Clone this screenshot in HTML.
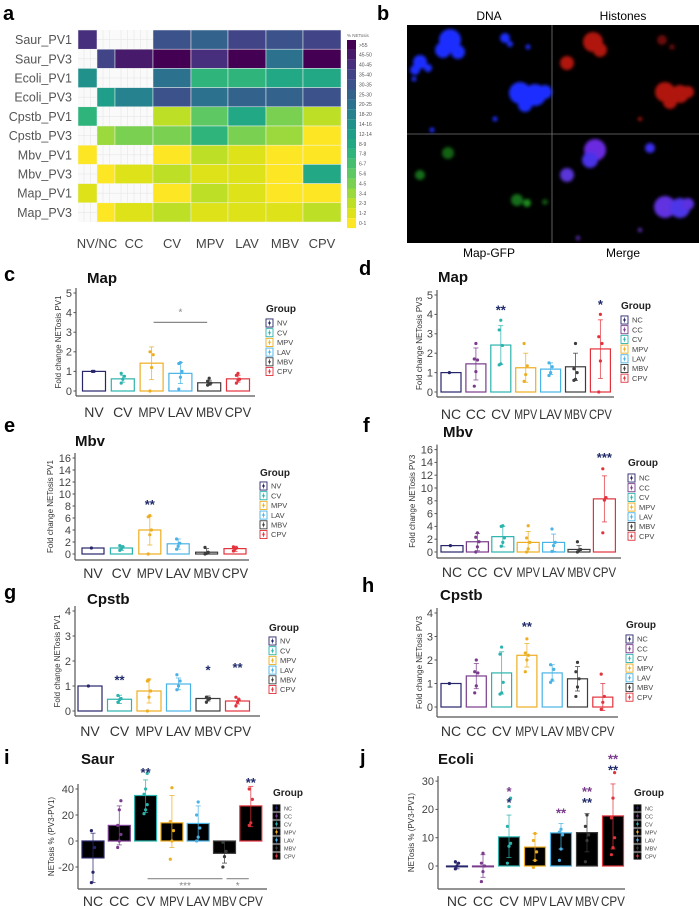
<!DOCTYPE html>
<html><head><meta charset="utf-8"><style>
html,body{margin:0;padding:0;background:#fff;}
svg{display:block;font-family:"Liberation Sans",sans-serif;}
</style></head><body>
<svg id="fig" width="699" height="906" viewBox="0 0 699 906" xmlns="http://www.w3.org/2000/svg">
<defs>
<filter id="blur1" x="-50%" y="-50%" width="200%" height="200%"><feGaussianBlur stdDeviation="1.6"/></filter>
</defs>
<rect x="0" y="0" width="699" height="906" fill="#fff"/>
<g id="pa"></g>
<g id="pb">
  <text x="377" y="20" font-size="20" font-weight="bold">b</text>
  <rect x="407" y="25" width="292" height="218" fill="#000"/>
  <line x1="552" y1="25" x2="552" y2="243" stroke="#777" stroke-width="0.8"/>
  <line x1="407" y1="134" x2="699" y2="134" stroke="#777" stroke-width="0.8"/>
  <g filter="url(#blur1)" fill="#1f2fff">
    <circle cx="450" cy="40" r="11"/><circle cx="443" cy="50" r="8"/><circle cx="458" cy="52" r="7"/>
    <circle cx="420" cy="62" r="7"/><circle cx="415" cy="70" r="5"/><circle cx="428" cy="68" r="4"/>
    <circle cx="505" cy="38" r="5"/><circle cx="510" cy="44" r="3"/><circle cx="528" cy="47" r="2.5"/>
    <circle cx="520" cy="93" r="11"/><circle cx="535" cy="95" r="11"/><circle cx="545" cy="92" r="7"/><circle cx="525" cy="105" r="7"/>
    <circle cx="495" cy="119" r="2.5"/><circle cx="432" cy="130" r="2.5"/><circle cx="414" cy="79" r="2.5"/>
  </g>
  <g filter="url(#blur1)" fill="#b0140e">
    <circle cx="593" cy="42" r="10"/><circle cx="600" cy="50" r="7"/><circle cx="567" cy="63" r="7"/>
    <circle cx="662" cy="40" r="5" opacity="0.6"/><circle cx="672" cy="47" r="3" opacity="0.5"/>
    <circle cx="665" cy="92" r="10"/><circle cx="680" cy="94" r="9"/><circle cx="688" cy="92" r="6"/><circle cx="670" cy="102" r="7"/>
    <circle cx="640" cy="119" r="2"/>
  </g>
  <g filter="url(#blur1)" fill="#1b8a1e">
    <circle cx="448" cy="153" r="6" opacity="0.7"/><circle cx="420" cy="175" r="5" opacity="0.8"/>
    <circle cx="517" cy="200" r="6" opacity="0.8"/><circle cx="527" cy="203" r="4"/><circle cx="545" cy="202" r="3" opacity="0.6"/>
  </g>
  <g filter="url(#blur1)">
    <circle cx="595" cy="150" r="11" fill="#6a2ae0"/><circle cx="590" cy="160" r="8" fill="#4a30e8"/>
    <circle cx="567" cy="175" r="7" fill="#5a36d8"/><circle cx="650" cy="148" r="5" fill="#3b2ff0"/>
    <circle cx="665" cy="207" r="11" fill="#6030e0"/><circle cx="680" cy="208" r="10" fill="#4d35e8"/><circle cx="688" cy="204" r="6" fill="#5b30e0"/>
    <circle cx="640" cy="230" r="2" fill="#6633cc"/><circle cx="578" cy="238" r="2" fill="#6633cc"/>
  </g>
  <text x="489" y="20" font-size="12" text-anchor="middle">DNA</text>
  <text x="623" y="20" font-size="12" text-anchor="middle">Histones</text>
  <text x="489" y="257" font-size="12" text-anchor="middle">Map-GFP</text>
  <text x="623" y="257" font-size="12" text-anchor="middle">Merge</text>
</g>
<g id="charts"></g>
</svg>
<script>
// ---------- Heatmap data (panel a) ----------
const heatRows = ["Saur_PV1","Saur_PV3","Ecoli_PV1","Ecoli_PV3","Cpstb_PV1","Cpstb_PV3","Mbv_PV1","Mbv_PV3","Map_PV1","Map_PV3"];
const heatCols = ["NV","NC","CC","CV","MPV","LAV","MBV","CPV"];
const heatColLabels = ["NV/NC","CC","CV","MPV","LAV","MBV","CPV"];
const heatValues = [
 [16,-1,-1,14,13,15,14,15],
 [-1,15,17,18,16,18,12,18],
 [10,-1,-1,12,7,7,8,8],
 [-1,9,11,14,12,13,13,14],
 [7,-1,-1,2,5,8,4,2],
 [-1,3,4,4,7,4,3,0],
 [0,-1,-1,0,2,1,0,0],
 [-1,0,1,2,1,1,0,8],
 [1,-1,-1,0,2,1,0,0],
 [-1,0,1,2,1,1,1,2]
];
const heatLegendLabels = ["0-1","1-2","2-3","3-4","4-5","5-6","6-7","7-8","8-9","12-14","14-16","18-20","20-25","25-30","30-35","35-40","40-45","45-50",">55"];
const viridis = ["#fde725","#dde318","#bddf26","#9bd93c","#7ad151","#5ec962","#44bf70","#2fb47c","#22a884","#1f9e89","#21918c","#26828e","#2c728e","#33638d","#3b528b","#414487","#472f7d","#481a6c","#440154"];

// ---------- Bar chart data ----------
const cCats=["NV","CV","MPV","LAV","MBV","CPV"];
const cMeans=[1,0.62,1.42,0.9,0.42,0.62];
const cLo=[1,0.45,0.58,0.38,0.3,0.45];
const cHi=[1,0.8,2.25,1.45,0.55,0.8];
const cPts=[[1,1],[0.4,0.6,0.75,0.9],[0,1.2,1.85,2.0],[0.1,0.7,1.0,1.4,1.45],[0.3,0.35,0.4,0.5,0.65],[0.4,0.55,0.6,0.8,0.9]];
const cTicks=[0,1,2,3,4,5];

const dCats=["NC","CC","CV","MPV","LAV","MBV","CPV"];
const dMeans=[1,1.45,2.42,1.25,1.18,1.3,2.22];
const dLo=[1,0.62,1.42,0.5,0.9,0.6,0.7];
const dHi=[1,2.27,3.42,2.0,1.5,2.0,3.72];
const dPts=[[1],[0.3,1.05,1.65,1.7,2.5],[1.4,1.45,2.4,3.2,3.7],[0.55,0.9,1.35,2.5],[0.85,1.0,1.3,1.5],[0.6,0.65,1.0,1.2,2.5],[0,1.6,2.5,2.85,4.0]];
const dTicks=[0,1,2,3,4,5];

const eCats=["NV","CV","MPV","LAV","MBV","CPV"];
const eMeans=[1,1,4,1.7,0.3,0.9];
const eLo=[1,0.6,1.5,0.8,0,0.4];
const eHi=[1,1.4,6.3,2.5,0.9,1.3];
const ePts=[[1],[0.6,0.9,1.2,1.4],[0,3.2,4.0,6.2,6.4],[0.8,1.3,1.8,2.5],[0,0.1,0.3,1.1],[0.5,0.8,1.0,1.2]];
const eTicks=[0,2,4,6,8,10,12,14,16];

const fCats=["NC","CC","CV","MPV","LAV","MBV","CPV"];
const fMeans=[1,1.6,2.4,1.5,1.5,0.4,8.3];
const fLo=[1,0.2,0.8,0,0.1,0,4.7];
const fHi=[1,2.9,4.0,3.2,2.8,1.0,11.9];
const fPts=[[1],[0,0.8,1.6,2.3,3.0],[0.9,1.5,2.2,4.0,4.1],[0,0.5,1.5,2.2,4.1],[0.1,1.0,1.5,3.6],[0,0.3,0.4,1.6],[3.0,8.1,8.5,13.0]];
const fTicks=[0,2,4,6,8,10,12,14,16];

const gCats=["NV","CV","MPV","LAV","MBV","CPV"];
const gMeans=[1,0.47,0.8,1.08,0.5,0.4];
const gLo=[1,0.3,0.32,0.85,0.4,0.28];
const gHi=[1,0.63,1.28,1.32,0.6,0.52];
const gPts=[[1],[0.35,0.45,0.5,0.62],[0,0.55,0.8,1.2,1.25],[0.85,1.0,1.2,1.45],[0.35,0.45,0.5,0.55],[0.2,0.35,0.45,0.55]];
const gTicks=[0,1,2,3,4];

const hCats=["NC","CC","CV","MPV","LAV","MBV","CPV"];
const hMeans=[1,1.32,1.45,2.2,1.45,1.2,0.42];
const hLo=[1,0.78,0.55,1.7,1.1,0.68,-0.15];
const hHi=[1,1.85,2.35,2.7,1.8,1.72,1.0];
const hPts=[[1],[0.6,0.9,1.45,1.5,2.0],[0.55,0.6,1.05,2.25,2.55],[1.5,2.0,2.2,2.3,2.9],[1.05,1.15,1.6,1.8],[0.45,0.85,1.2,1.5,1.9],[-0.1,0.2,0.45,1.4]];
const hTicks=[0,1,2,3,4];

const iCats=["NC","CC","CV","MPV","LAV","MBV","CPV"];
const iMeans=[-13,12,35,14,13.5,-9.5,27];
const iLo=[-32,-3,22,-5,0,-17,11];
const iHi=[6,27,47,35,27,0,42];
const iPts=[[-32,-24,-5,8],[-5,0,5,12,24,31],[21,24,28,36,40,52],[-14,0,8,15,41],[0,3,10,20,30],[-20,-12,-8,-1],[12,14,32,40]];
const iTicks=[-20,0,20,40];

const jCats=["NC","CC","CV","MPV","LAV","MBV","CPV"];
const jMeans=[0,-0.2,10.3,6.7,11.7,11.8,17.7];
const jLo=[-1,-4,3,2,6,5,6];
const jHi=[1,4,18,11.5,15,18.5,29];
const jPts=[[-1,0,1,1.5],[-5.5,-2,0,1,4.5],[1,7,8,14,21,24],[-0.5,2,5,9,11.5],[2,6,11,12,13],[1.5,9,11,14,18],[4,6.5,10,17,24,33]];
const jTicks=[0,10,20,30];

// significance marks: [category index, value, text, color]
const cStars=[];
const dStars=[[2,4.3,"**","#1f2a6b"],[6,4.6,"*","#1f2a6b"]];
const eStars=[[2,8.5,"**","#1f2a6b"]];
const fStars=[[6,15,"***","#1f2a6b"]];
const gStars=[[1,1.3,"**","#1f2a6b"],[4,1.7,"*","#1f2a6b"],[5,1.8,"**","#1f2a6b"]];
const hStars=[[3,3.5,"**","#1f2a6b"]];
const iStars=[[2,54,"**","#1f2a6b"],[6,46,"**","#1f2a6b"]];
const jStars=[[2,23,"*","#1f2a6b"],[2,26.8,"*","#7a3b8c"],[4,19.3,"**","#7a3b8c"],[5,23,"**","#1f2a6b"],[5,26.8,"**","#7a3b8c"],[6,34.5,"**","#1f2a6b"],[6,38.3,"**","#7a3b8c"]];
// bracket lines: [from idx, to idx, value, label, label value]
const cBrackets=[[2,4,3.5,"*",4.1]];
const iBrackets=[[2,5,-29,"***",-33],[5,6,-29,"*",-33]];

const groupColor={NV:"#27266b",NC:"#27266b",CC:"#7a3b8c",CV:"#2cb3ad",MPV:"#eeae22",LAV:"#49b2e6",MBV:"#3c3c3c",CPV:"#e2333d"};
const NS="http://www.w3.org/2000/svg";
function mk(tag,attrs,parent){const e=document.createElementNS(NS,tag);for(const k in attrs)e.setAttribute(k,attrs[k]);if(parent)parent.appendChild(e);return e;}

// ---------- Panel a ----------
(function(){
  const g=document.getElementById("pa");
  const colEdges=[78,97,115,153,191,228,266,303,341];
  const top=30,rowH=19.2;
  const lab=mk("text",{x:3,y:20,"font-size":20,"font-weight":"bold"},g);lab.textContent="a";
  
  
  heatRows.forEach((r,ri)=>{
    const t=mk("text",{x:72,y:top+ri*rowH+rowH/2+4.5,"font-size":12.5,fill:"#555","text-anchor":"end"},g);
    t.textContent=r;
    
    
    heatCols.forEach((c,ci)=>{
      const v=heatValues[ri][ci];
      const x0=colEdges[ci],x1=colEdges[ci+1],y0=top+ri*rowH;
      if(v<0){
        const cell=mk("rect",{x:x0,y:y0,width:x1-x0,height:rowH,fill:"#fafafa",stroke:"none"},g);
        
        
        for(let gx=x0+6;gx<x1;gx+=6.5) mk("line",{x1:gx,y1:y0,x2:gx,y2:y0+rowH,stroke:"#e6e6e6","stroke-width":0.6},g);
        mk("line",{x1:x0,y1:y0+rowH/2,x2:x1,y2:y0+rowH/2,stroke:"#e6e6e6","stroke-width":0.6},g);
      } else {
        const cell=mk("rect",{x:x0,y:y0,width:x1-x0,height:rowH,fill:viridis[v],stroke:"#f2f2f2","stroke-width":0.5},g);
        
        
      }
    });
  });
  const labX=[97,134,172,210,247,285,322];
  heatColLabels.forEach((c,i)=>{
    const t=mk("text",{x:labX[i],y:248,"font-size":13,fill:"#444","text-anchor":"middle"},g);
    t.textContent=c;
    
    
  });
  const lt=mk("text",{x:347,y:37,"font-size":4.5,fill:"#666"},g);lt.textContent="% NETosis";
  
  
  const n=heatLegendLabels.length;
  for(let k=0;k<n;k++){
    const idx=n-1-k;const y=40+k*9.9;
    const sw=mk("rect",{x:347,y:y,width:9,height:9.9,fill:viridis[idx]},g);
    
    
    const t=mk("text",{x:359,y:y+6.8,"font-size":5,fill:"#555"},g);t.textContent=heatLegendLabels[idx];
    
    
  }
})();

// ---------- Bar charts ----------
function barChart(o){
  const root=document.getElementById("charts");
  const g=mk("g",{},root);
  
  
  const Y=v=>o.y0-v*o.unit;
  const X=i=>o.x0+i*o.step;
  const pl=mk("text",{x:o.lx,y:o.ly,"font-size":20,"font-weight":"bold"},g);pl.textContent=o.id;
  
  
  const tt=mk("text",{x:o.tx,y:o.ty,"font-size":15,"font-weight":"bold",fill:"#111"},g);tt.textContent=o.title;
  
  
  const yTop=Y(o.ticks[o.ticks.length-1])-5;
  const ya=mk("line",{x1:o.ax,y1:yTop,x2:o.ax,y2:o.axY,stroke:"#555","stroke-width":1.2},g);
  
  
  const xa=mk("line",{x1:o.ax,y1:o.axY,x2:o.axEnd,y2:o.axY,stroke:"#555","stroke-width":1.2},g);
  
  
  o.ticks.forEach(t=>{
    mk("line",{x1:o.ax-2.5,y1:Y(t),x2:o.ax,y2:Y(t),stroke:"#555","stroke-width":1},g);
    const tl=mk("text",{x:o.ax-4,y:Y(t)+3.8,"font-size":11,fill:"#444","text-anchor":"end"},g);tl.textContent=t;
    
    
  });
  const ymid=(yTop+o.axY)/2;
  const yt=mk("text",{x:o.ax-o.ytOff,y:ymid,"font-size":8,fill:"#333","text-anchor":"middle",transform:`rotate(-90 ${o.ax-o.ytOff} ${ymid})`},g);
  yt.textContent=o.ytitle;
  
  
  o.cats.forEach((c,i)=>{
    const col=groupColor[c],cx=X(i);
    const m=o.means[i];
    const y1=Y(Math.max(m,0)),y2=Y(Math.min(m,0));
    const b=mk("rect",{x:cx-o.bw/2,y:y1,width:o.bw,height:Math.max(y2-y1,0.8),fill:o.fill,stroke:col,"stroke-width":1.2},g);
    
    
    const eb=mk("line",{x1:cx,y1:Y(o.hi[i]),x2:cx,y2:Y(o.lo[i]),stroke:col,"stroke-width":0.9,opacity:0.8},g);
    
    
    [o.hi[i],o.lo[i]].forEach(v=>mk("line",{x1:cx-2.5,y1:Y(v),x2:cx+2.5,y2:Y(v),stroke:col,"stroke-width":0.9,opacity:0.8},g));
    o.pts[i].forEach((v,k)=>{
      const p=mk("circle",{cx:cx+((k%3)-1)*1.6,cy:Y(v),r:1.6,fill:col},g);
      
      
    });
    const xl=mk("text",{x:cx,y:o.xlY,"font-size":14,fill:"#333","text-anchor":"middle"},g);xl.textContent=c;
    
    
    const maxW=o.step*0.92;
    const w=xl.getComputedTextLength();
    if(w>maxW){xl.setAttribute("textLength",maxW);xl.setAttribute("lengthAdjust","spacingAndGlyphs");}
  });
  o.stars.forEach(s=>{
    const st=mk("text",{x:X(s[0]),y:Y(s[1])+6,"font-size":13,"font-weight":"bold",fill:s[3],"text-anchor":"middle"},g);st.textContent=s[2];
    
    
  });
  (o.brackets||[]).forEach(b=>{
    const bl=mk("line",{x1:X(b[0])+2,y1:Y(b[2]),x2:X(b[1])-2,y2:Y(b[2]),stroke:"#888","stroke-width":1.2},g);
    
    
    const bt=mk("text",{x:(X(b[0])+X(b[1]))/2,y:Y(b[4])+5,"font-size":10,fill:"#888","text-anchor":"middle"},g);bt.textContent=b[3];
    
    
  });
  const lg=mk("g",{},g);
  
  
  const gt=mk("text",{x:o.legX,y:o.legY,"font-size":10,"font-weight":"bold",fill:"#222"},lg);gt.textContent="Group";
  
  
  o.cats.forEach((c,i)=>{
    const y=o.legY0+i*o.legStep,col=groupColor[c];
    const sw=mk("rect",{x:o.legX,y:y-o.legStep/2+0.8,width:7,height:o.legStep-1.6,fill:o.dark?"#000":"#fff",stroke:o.dark?"#222":col,"stroke-width":0.9},lg);
    
    
    mk("line",{x1:o.legX+3.5,y1:y-2.5,x2:o.legX+3.5,y2:y+2.5,stroke:col,"stroke-width":0.7},lg);
    mk("circle",{cx:o.legX+3.5,cy:y,r:1.2,fill:col},lg);
    const lt=mk("text",{x:o.legX+11,y:y+2.7,"font-size":o.dark?5.5:7.5,fill:"#444"},lg);lt.textContent=c;
    
    
  });
}
const FC="Fold change NETosis ";
barChart({id:"c",title:"Map",cats:cCats,means:cMeans,lo:cLo,hi:cHi,pts:cPts,ticks:cTicks,stars:cStars,brackets:cBrackets,
 lx:4,ly:281,tx:87,ty:283,ax:76,axY:396,axEnd:255,y0:391,unit:19.6,x0:94,step:28.8,bw:23,xlY:417,ytOff:15,ytitle:FC+"PV1",fill:"#fff",
 legX:266,legY:312,legY0:323,legStep:9.7});
barChart({id:"d",title:"Map",cats:dCats,means:dMeans,lo:dLo,hi:dHi,pts:dPts,ticks:dTicks,stars:dStars,
 lx:359,ly:275,tx:438,ty:282,ax:437,axY:397,axEnd:614,y0:392,unit:19.4,x0:451,step:24.9,bw:20,xlY:419,ytOff:15,ytitle:FC+"PV3",fill:"#fff",
 legX:621,legY:309,legY0:320,legStep:9.7});
barChart({id:"e",title:"Mbv",cats:eCats,means:eMeans,lo:eLo,hi:eHi,pts:ePts,ticks:eTicks,stars:eStars,
 lx:4,ly:432,tx:75,ty:446,ax:75,axY:560,axEnd:249,y0:554,unit:6.0,x0:93,step:28.4,bw:22,xlY:578,ytOff:22,ytitle:FC+"PV1",fill:"#fff",
 legX:260,legY:476,legY0:486,legStep:9.7});
barChart({id:"f",title:"Mbv",cats:fCats,means:fMeans,lo:fLo,hi:fHi,pts:fPts,ticks:fTicks,stars:fStars,
 lx:363,ly:432,tx:443,ty:437,ax:437,axY:558,axEnd:621,y0:552,unit:6.4,x0:452,step:25.4,bw:22,xlY:577,ytOff:22,ytitle:FC+"PV3",fill:"#fff",
 legX:628,legY:466,legY0:478,legStep:9.7});
barChart({id:"g",title:"Cpstb",cats:gCats,means:gMeans,lo:gLo,hi:gHi,pts:gPts,ticks:gTicks,stars:gStars,
 lx:4,ly:599,tx:87,ty:604,ax:75,axY:716,axEnd:260,y0:711,unit:25,x0:90,step:29.5,bw:24,xlY:736,ytOff:15,ytitle:FC+"PV1",fill:"#fff",
 legX:269,legY:631,legY0:641,legStep:9.7});
barChart({id:"h",title:"Cpstb",cats:hCats,means:hMeans,lo:hLo,hi:hHi,pts:hPts,ticks:hTicks,stars:hStars,
 lx:362,ly:592,tx:440,ty:600,ax:437,axY:717,axEnd:618,y0:707,unit:23.5,x0:451,step:25.3,bw:20,xlY:736,ytOff:15,ytitle:FC+"PV3",fill:"#fff",
 legX:626,legY:628,legY0:639,legStep:9.7});
barChart({id:"i",title:"Saur",cats:iCats,means:iMeans,lo:iLo,hi:iHi,pts:iPts,ticks:iTicks,stars:iStars,brackets:iBrackets,
 lx:4,ly:764,tx:81,ty:764,ax:78,axY:889,axEnd:267,y0:841,unit:1.3,x0:93,step:26.3,bw:22,xlY:906,ytOff:24,ytitle:"NETosis % (PV3-PV1)",fill:"#000",dark:true,
 legX:273,legY:796,legY0:808,legStep:8});
barChart({id:"j",title:"Ecoli",cats:jCats,means:jMeans,lo:jLo,hi:jHi,pts:jPts,ticks:jTicks,stars:jStars,
 lx:360,ly:764,tx:438,ty:764,ax:438,axY:889,axEnd:625,y0:866,unit:2.83,x0:457,step:26,bw:21,xlY:906,ytOff:24,ytitle:"NETosis % (PV3-PV1)",fill:"#000",dark:true,
 legX:634,legY:796,legY0:808,legStep:8});
</script>
</body></html>
